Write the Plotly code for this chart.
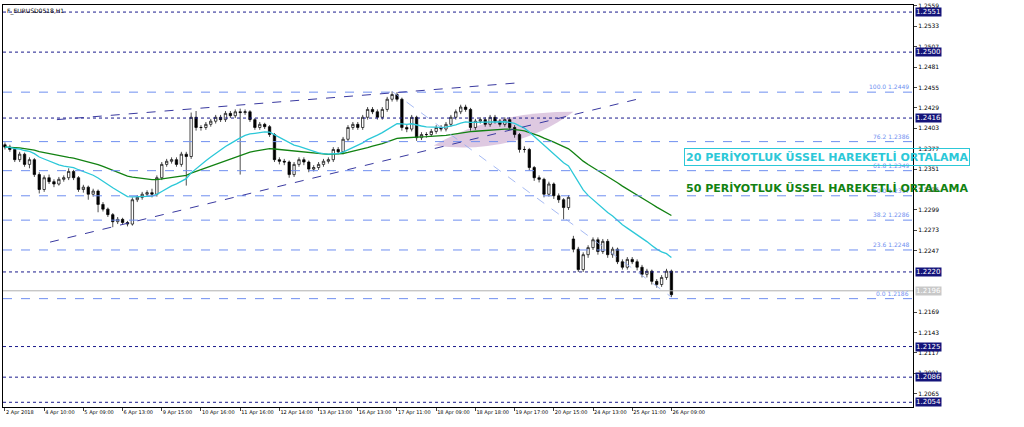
import plotly.graph_objects as go

# H1 bars, 2 Apr - 26 Apr 2018
closes = [1.2379, 1.2376, 1.2363, 1.2370, 1.2357, 1.2363, 1.2344, 1.2325, 1.2340, 1.2335,
          1.2332, 1.2338, 1.2340, 1.2348, 1.2340, 1.2325, 1.2328, 1.2319, 1.2323, 1.2306,
          1.2300, 1.2293, 1.2284, 1.2287, 1.2283, 1.2281, 1.2312, 1.2315, 1.2319, 1.2321,
          1.2319, 1.2340, 1.2357, 1.2361, 1.2363, 1.2357, 1.2370, 1.2367, 1.2417, 1.2404,
          1.2404, 1.2408, 1.2412, 1.2417, 1.2414, 1.2422, 1.2419, 1.2424, 1.2423, 1.2424,
          1.2414, 1.2404, 1.2408, 1.2405, 1.2395, 1.2363, 1.2361, 1.2360, 1.2344, 1.2357,
          1.2363, 1.2360, 1.2351, 1.2353, 1.2357, 1.2361, 1.2363, 1.2376, 1.2373, 1.2389,
          1.2404, 1.2408, 1.2404, 1.2417, 1.2427, 1.2424, 1.2417, 1.2427, 1.2440, 1.2446,
          1.2440, 1.2404, 1.2402, 1.2417, 1.2391, 1.2395, 1.2395, 1.2399, 1.2404, 1.2402,
          1.2408, 1.2417, 1.2424, 1.2430, 1.2427, 1.2404, 1.2412, 1.2414, 1.2408, 1.2417,
          1.2412, 1.2408, 1.2414, 1.2404, 1.2395, 1.2376, 1.2376, 1.2353, 1.2340, 1.2338,
          1.2319, 1.2332, 1.2317, 1.2312, 1.2302, 1.2315, 1.2249, 1.2223, 1.2242, 1.2251,
          1.2261, 1.2246, 1.2259, 1.2242, 1.2249, 1.2233, 1.2226, 1.2236, 1.2233, 1.2226,
          1.2217, 1.2221, 1.2208, 1.2204, 1.2213, 1.2221, 1.2191]
highs = [1.2385, 1.2382, 1.2378, 1.2373, 1.2372, 1.2366, 1.2365, 1.2347, 1.2343, 1.2344,
         1.2338, 1.2341, 1.2343, 1.2352, 1.2350, 1.2342, 1.2331, 1.2330, 1.2326, 1.2325,
         1.2309, 1.2302, 1.2295, 1.2290, 1.2289, 1.2285, 1.2315, 1.2318, 1.2322, 1.2324,
         1.2326, 1.2343, 1.2360, 1.2364, 1.2366, 1.2366, 1.2373, 1.2373, 1.2423, 1.2425,
         1.2407, 1.2411, 1.2415, 1.2420, 1.2420, 1.2425, 1.2425, 1.2427, 1.2428, 1.2427,
         1.2426, 1.2416, 1.2411, 1.2410, 1.2407, 1.2397, 1.2366, 1.2364, 1.2362, 1.2360,
         1.2366, 1.2366, 1.2362, 1.2356, 1.2360, 1.2364, 1.2366, 1.2379, 1.2379, 1.2392,
         1.2407, 1.2411, 1.2411, 1.2420, 1.2430, 1.2430, 1.2427, 1.2430, 1.2443, 1.2450,
         1.2449, 1.2442, 1.2407, 1.2420, 1.2419, 1.2398, 1.2398, 1.2402, 1.2407, 1.2407,
         1.2411, 1.2420, 1.2427, 1.2433, 1.2433, 1.2429, 1.2415, 1.2417, 1.2417, 1.2420,
         1.2420, 1.2415, 1.2417, 1.2417, 1.2407, 1.2397, 1.2380, 1.2378, 1.2355, 1.2343,
         1.2340, 1.2335, 1.2334, 1.2320, 1.2314, 1.2318, 1.2266, 1.2252, 1.2245, 1.2254,
         1.2264, 1.2264, 1.2262, 1.2262, 1.2252, 1.2251, 1.2236, 1.2239, 1.2239, 1.2236,
         1.2229, 1.2224, 1.2223, 1.2211, 1.2216, 1.2224, 1.2223]
lows = [1.2376, 1.2373, 1.2360, 1.2360, 1.2354, 1.2352, 1.2341, 1.2320, 1.2322, 1.2332,
        1.2328, 1.2330, 1.2335, 1.2337, 1.2337, 1.2322, 1.2321, 1.2312, 1.2316, 1.2296,
        1.2297, 1.2290, 1.2277, 1.2281, 1.2280, 1.2278, 1.2279, 1.2309, 1.2312, 1.2316,
        1.2315, 1.2316, 1.2337, 1.2354, 1.2358, 1.2354, 1.2354, 1.2330, 1.2364, 1.2400,
        1.2400, 1.2401, 1.2405, 1.2409, 1.2411, 1.2411, 1.2416, 1.2416, 1.2344, 1.2420,
        1.2411, 1.2401, 1.2401, 1.2402, 1.2392, 1.2360, 1.2357, 1.2356, 1.2340, 1.2341,
        1.2354, 1.2356, 1.2347, 1.2348, 1.2350, 1.2354, 1.2358, 1.2360, 1.2370, 1.2370,
        1.2386, 1.2401, 1.2401, 1.2401, 1.2414, 1.2421, 1.2414, 1.2414, 1.2424, 1.2437,
        1.2437, 1.2400, 1.2398, 1.2399, 1.2387, 1.2388, 1.2391, 1.2392, 1.2396, 1.2399,
        1.2399, 1.2405, 1.2414, 1.2421, 1.2424, 1.2400, 1.2401, 1.2409, 1.2405, 1.2405,
        1.2409, 1.2405, 1.2405, 1.2401, 1.2391, 1.2372, 1.2372, 1.2349, 1.2336, 1.2334,
        1.2315, 1.2316, 1.2313, 1.2308, 1.2287, 1.2299, 1.2245, 1.2220, 1.2220, 1.2238,
        1.2248, 1.2242, 1.2243, 1.2238, 1.2238, 1.2230, 1.2223, 1.2223, 1.2230, 1.2222,
        1.2213, 1.2213, 1.2204, 1.2200, 1.2201, 1.2210, 1.2188]
first_open = 1.2382
gap_opens = {116: 1.2262}  # weekend gap

opens = [first_open] + closes[:-1]
for k, v in gap_opens.items():
    opens[k] = v
idx = list(range(len(closes)))

tick_pos = list(range(0, 137, 8))
tick_text = ["2 Apr 2018", "4 Apr 10:00", "5 Apr 09:00", "6 Apr 13:00", "9 Apr 15:00",
             "10 Apr 16:00", "11 Apr 16:00", "12 Apr 14:00", "13 Apr 13:00", "16 Apr 13:00",
             "17 Apr 11:00", "18 Apr 09:00", "18 Apr 18:00", "19 Apr 17:00", "20 Apr 15:00",
             "24 Apr 13:00", "25 Apr 11:00", "26 Apr 09:00"][:len(tick_pos)]
price_ticks = [1.2559, 1.2533, 1.2507, 1.2481, 1.2455, 1.2429, 1.2403, 1.2377, 1.2351, 1.2325,
               1.2299, 1.2273, 1.2247, 1.2169, 1.2143, 1.2117, 1.2091, 1.2065]
sr_levels = [1.2551, 1.2500, 1.2416, 1.2220, 1.2125, 1.2086, 1.2054]
last_price = 1.2196
fib_pct = ["100.0", "76.2", "61.8", "50.0", "38.2", "23.6", "0.0"]
fib_levels = [1.2449, 1.2386, 1.2349, 1.2317, 1.2286, 1.2248, 1.2186]
channel_up = [(10.6, 1.2414), (105, 1.2461)]
channel_low = [(9.2, 1.2258), (129, 1.2440)]
fib_diag = [(79, 1.2450), (136, 1.2188)]


def ema(values, n, seed):
    k = 2 / (n + 1)
    out, e = [], seed
    for v in values:
        e = v * k + e * (1 - k)
        out.append(e)
    return out


ema20 = ema(closes, 20, 1.2379)
ema50 = ema(closes, 50, 1.2379)

fig = go.Figure()
fig.add_trace(go.Scatter(x=idx, y=ema50, mode="lines", line=dict(color="#128212", width=1.3),
                         hoverinfo="skip"))
fig.add_trace(go.Scatter(x=idx, y=ema20, mode="lines", line=dict(color="#2cc8d8", width=1.3),
                         hoverinfo="skip"))
fig.add_trace(go.Candlestick(
    x=idx, open=opens, high=highs, low=lows, close=closes,
    increasing=dict(line=dict(color="black", width=0.7), fillcolor="white"),
    decreasing=dict(line=dict(color="black", width=0.7), fillcolor="black"),
    whiskerwidth=0,
))

shapes = []
for lv in sr_levels:
    shapes.append(dict(type="line", xref="paper", x0=0, x1=1, y0=lv, y1=lv,
                       line=dict(color="#1a1a8c", width=1, dash="dot")))
for lv in fib_levels:
    shapes.append(dict(type="line", xref="paper", x0=0, x1=1, y0=lv, y1=lv,
                       line=dict(color="#6f8ff0", width=1, dash="dash")))
shapes.append(dict(type="line", xref="paper", x0=0, x1=1, y0=last_price, y1=last_price,
                   line=dict(color="#b0b0b0", width=1)))
for pts, col, w in [(channel_up, "#3a3aa0", 1), (channel_low, "#3a3aa0", 1), (fib_diag, "#8fa8f0", 0.8)]:
    shapes.append(dict(type="line", x0=pts[0][0], y0=pts[0][1], x1=pts[1][0], y1=pts[1][1],
                       line=dict(color=col, width=w, dash="dash")))
shapes.append(dict(type="path", path="M 87.5,1.2381 Q 99,1.2424 116,1.2424 Q 104,1.2368 87.5,1.2381 Z",
                   fillcolor="rgba(160,100,170,0.35)", line=dict(width=0), layer="below"))
fig.update_layout(shapes=shapes)

ann = []
for lv in sr_levels:
    ann.append(dict(x=1, xref="paper", y=lv, xanchor="left", xshift=2, text=f"{lv:.4f}",
                    showarrow=False, bgcolor="#14147a", font=dict(color="white", size=7),
                    borderpad=0))
ann.append(dict(x=1, xref="paper", y=last_price, xanchor="left", xshift=2, text=f"{last_price:.4f}",
                showarrow=False, bgcolor="#c8c8c8", font=dict(color="white", size=7), borderpad=0))
for p, lv in zip(fib_pct, fib_levels):
    ann.append(dict(x=1, xref="paper", y=lv, xanchor="right", yanchor="bottom", xshift=-2,
                    text=f"{p} {lv:.4f}", showarrow=False, font=dict(color="#6f8ff0", size=6)))
ann.append(dict(x=138.5, y=1.2367, xanchor="left", text="<b>20 PERİYOTLUK ÜSSEL HAREKETLİ ORTALAMA</b>",
                showarrow=False, font=dict(color="#2cc8d8", size=11, family="DejaVu Sans"),
                bordercolor="#2cc8d8", borderwidth=1, borderpad=1))
ann.append(dict(x=138.5, y=1.2327, xanchor="left", text="<b>50 PERİYOTLUK ÜSSEL HAREKETLİ ORTALAMA</b>",
                showarrow=False, font=dict(color="#128212", size=11, family="DejaVu Sans")))
ann.append(dict(x=0, xref="paper", y=1, yref="paper", xanchor="left", yanchor="top", xshift=2,
                text="F_EURUSD0518,H1", showarrow=False, font=dict(color="black", size=6)))
fig.update_layout(annotations=ann)

fig.update_layout(
    width=1024, height=427, margin=dict(l=3, r=111, t=5, b=20, autoexpand=False),
    paper_bgcolor="white", plot_bgcolor="white", showlegend=False,
    font=dict(family="DejaVu Sans", size=7, color="black"),
)
fig.update_xaxes(range=[-0.4, 185.3], tickvals=tick_pos, ticktext=tick_text, showgrid=False,
                 rangeslider_visible=False, ticks="outside", ticklen=3, showline=True,
                 linecolor="black", mirror=True, zeroline=False, tickfont=dict(size=5),
                 tickangle=0, automargin=False, ticklabelposition="outside right")
fig.update_yaxes(range=[1.2048, 1.2560], side="right", tickvals=price_ticks, tickformat=".4f",
                 showgrid=False, ticks="outside", ticklen=3, showline=True, linecolor="black",
                 mirror=True, zeroline=False, tickfont=dict(size=6), automargin=False)

fig.write_html("out.html", config={"displayModeBar": False},
               post_script="document.body.style.margin='0';")
